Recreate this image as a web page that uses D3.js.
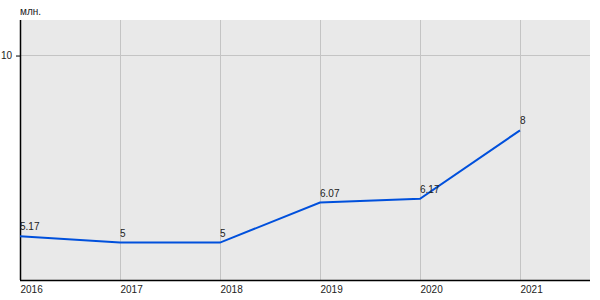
<!DOCTYPE html>
<html><head><meta charset="utf-8">
<script src="https://cdn.jsdelivr.net/npm/d3@7"></script>
<style>body{margin:0;background:#fff}svg{display:block;font-family:"Liberation Sans",Arial,sans-serif}</style>
</head><body><svg id="c" width="600" height="300"></svg>
<script>
const years = [2016, 2017, 2018, 2019, 2020, 2021];
const values = [5.17, 5, 5, 6.07, 6.17, 8];
const valueLabels = ["5.17", "5", "5", "6.07", "6.17", "8"];
const yTicks = [10];
const unitLabel = "млн.";

const svg = d3.select("#c");
const L = 20, R = 590, T = 20, B = 280;
const x = d3.scaleLinear().domain([2016, 2021.7]).range([L, R]);
const y = d3.scaleLinear().domain([4, 10.95]).range([B, T]);

svg.append("rect").attr("x", L).attr("y", T).attr("width", R - L).attr("height", B - T).attr("fill", "#e9e9e9");

// grid
svg.append("g").selectAll("line").data(years).join("line")
  .attr("x1", d => x(d)).attr("x2", d => x(d)).attr("y1", T).attr("y2", B)
  .attr("stroke", "#c4c4c4").attr("stroke-width", 1).attr("shape-rendering", "crispEdges");
svg.append("g").selectAll("line").data(yTicks).join("line")
  .attr("x1", L).attr("x2", R).attr("y1", d => y(d)).attr("y2", d => y(d))
  .attr("stroke", "#c4c4c4").attr("stroke-width", 1).attr("shape-rendering", "crispEdges");

// axes
const yAxis = d3.axisLeft(y).tickValues(yTicks).tickSize(4).tickPadding(4).tickFormat(d3.format("d"));
const gy = svg.append("g").attr("transform", `translate(${L},0)`).call(yAxis);
gy.select(".domain").remove();
gy.selectAll("line").attr("stroke", "#000");
gy.selectAll("text").attr("font-size", 10).attr("fill", "#222").attr("font-family", "Liberation Sans, Arial, sans-serif");

svg.append("line").attr("x1", L + 0.5).attr("x2", L + 0.5).attr("y1", T).attr("y2", B).attr("stroke", "#000").attr("stroke-width", 1.5);
svg.append("line").attr("x1", L).attr("x2", R).attr("y1", B + 0.5).attr("y2", B + 0.5).attr("stroke", "#000").attr("stroke-width", 1.5);

const xAxis = d3.axisBottom(x).tickValues(years).tickSize(0).tickPadding(6).tickFormat(d3.format("d"));
const gx = svg.append("g").attr("transform", `translate(0,${B})`).call(xAxis);
gx.select(".domain").remove();
gx.selectAll("text").attr("text-anchor", "start").attr("font-size", 10).attr("fill", "#222").attr("font-family", "Liberation Sans, Arial, sans-serif");

svg.append("text").attr("x", L).attr("y", 15).attr("font-size", 10).attr("fill", "#222").text(unitLabel);

// line
const line = d3.line().x((d, i) => x(years[i])).y(d => y(d));
svg.append("path").datum(values).attr("d", line).attr("fill", "none")
  .attr("stroke", "#0050dc").attr("stroke-width", 2);

svg.append("g").selectAll("text").data(values).join("text")
  .attr("x", (d, i) => x(years[i])).attr("y", d => y(d) - 6)
  .attr("font-size", 10).attr("fill", "#222").text((d, i) => valueLabels[i]);
</script></body></html>
